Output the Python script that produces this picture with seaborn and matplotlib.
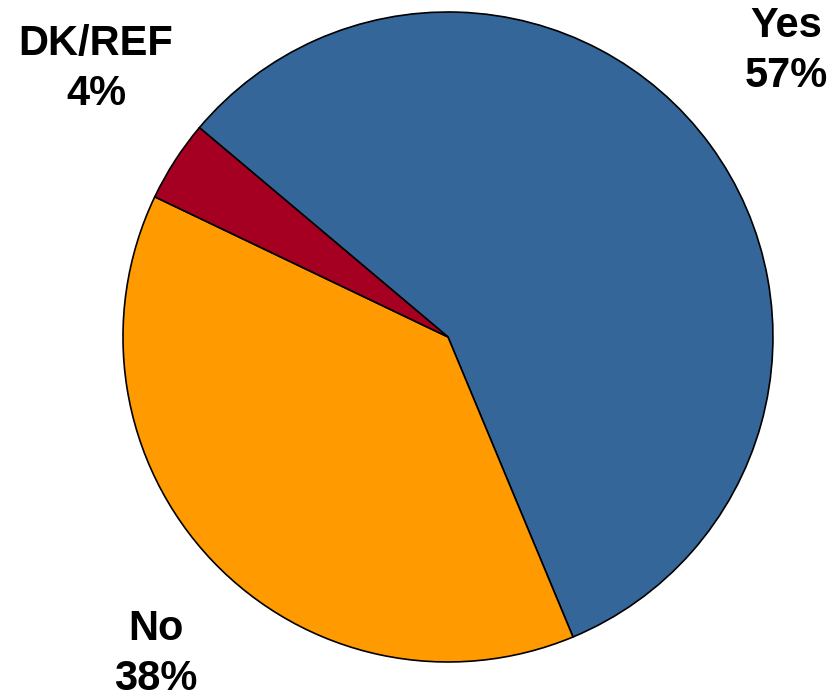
import matplotlib
matplotlib.use("Agg")
import matplotlib.pyplot as plt
import seaborn as sns

sns.set_theme(style="white")
plt.rcParams["font.family"] = ["Liberation Sans", "DejaVu Sans"]

categories = ["Yes", "No", "DK/REF"]
shares = [57, 38, 4]
colors = ["#346699", "#FF9A00", "#A50021"]

# label anchor points in pie (data) units, one per category
label_xy = [(1.04, 0.88), (-0.90, -0.975), (-1.083, 0.825)]

labels = [f"{c}\n{v}%" for c, v in zip(categories, shares)]

fig = plt.figure(figsize=(8.36, 6.98), dpi=100)
ax = fig.add_axes([0.1471, 0.0516, 0.7775, 0.9312])

wedges, texts = ax.pie(
    shares,
    labels=labels,
    colors=colors,
    startangle=139.9,
    counterclock=False,
    wedgeprops=dict(edgecolor="black", linewidth=1.2),
    textprops=dict(fontsize=30, fontweight="bold", color="black",
                   linespacing=1.3),
)
for t, xy in zip(texts, label_xy):
    t.set_position(xy)
    t.set_ha("center")
    t.set_va("center")
    t.set_multialignment("center")

ax.set_xlim(-1, 1)
ax.set_ylim(-1, 1)
ax.set_aspect("equal")
ax.axis("off")

fig.savefig("out.png", dpi=100)
